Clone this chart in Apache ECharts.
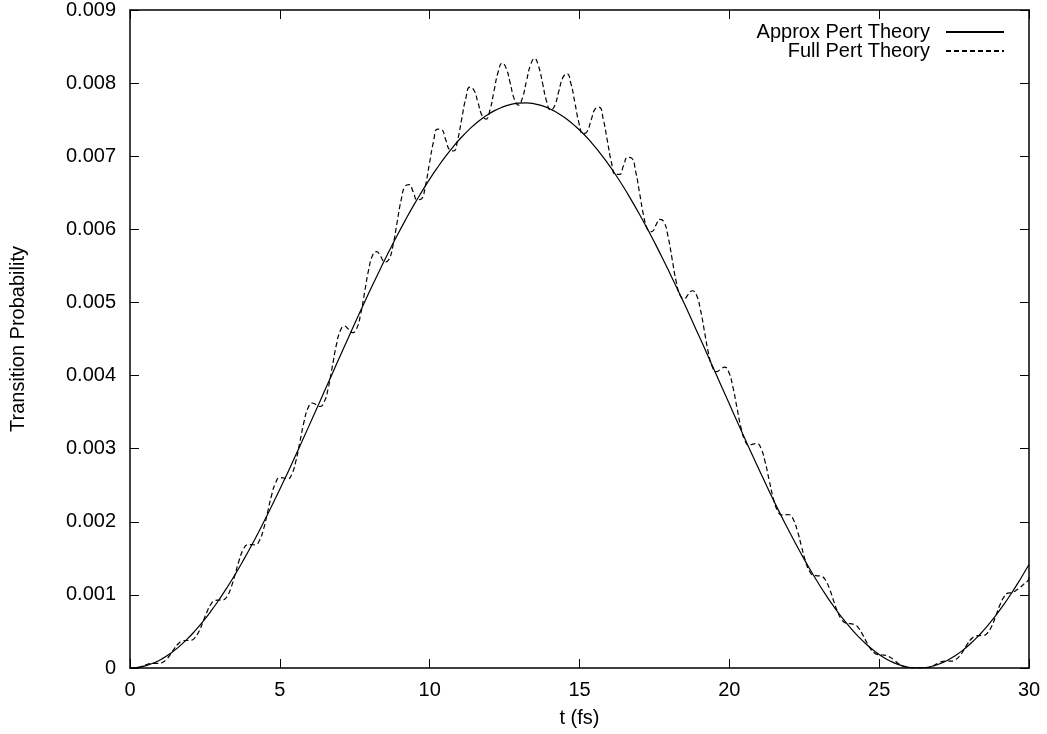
<!DOCTYPE html>
<html>
<head>
<meta charset="utf-8">
<script src="https://cdn.jsdelivr.net/npm/echarts@6/dist/echarts.min.js"></script>
<style>
html,body{margin:0;padding:0;background:#fff;}
#chart{width:1047px;height:734px;}
</style>
</head>
<body>
<div id="chart"></div>
<script>
// Approx Pert Theory: time samples (fs) and values
const timesApprox = [0,0.27,0.54,0.81,1.08,1.35,1.62,1.89,2.16,2.43,2.7,2.97,3.24,3.51,3.78,4.05,4.32,4.59,4.86,5.13,5.4,5.67,5.94,6.21,6.48,6.75,7.02,7.29,7.56,7.83,8.1,8.37,8.64,8.91,9.18,9.45,9.72,9.99,10.26,10.53,10.8,11.07,11.34,11.61,11.88,12.15,12.42,12.69,12.96,13.23,13.5,13.77,14.04,14.31,14.58,14.85,15.12,15.39,15.66,15.93,16.2,16.47,16.74,17.01,17.28,17.55,17.82,18.09,18.36,18.63,18.9,19.17,19.44,19.71,19.98,20.25,20.52,20.79,21.06,21.33,21.6,21.87,22.14,22.41,22.68,22.95,23.22,23.49,23.76,24.03,24.3,24.57,24.84,25.11,25.38,25.65,25.92,26.19,26.46,26.73,27,27.27,27.54,27.81,28.08,28.35,28.62,28.89,29.16,29.43,29.7,29.97,30];
const approxPert = [0,0.0081e-3,0.0322e-3,0.0721e-3,0.128e-3,0.1991e-3,0.2859e-3,0.3875e-3,0.5034e-3,0.6332e-3,0.7768e-3,0.9329e-3,1.101e-3,1.2811e-3,1.4722e-3,1.6729e-3,1.8818e-3,2.0998e-3,2.3256e-3,2.5575e-3,2.7939e-3,3.037e-3,3.281e-3,3.5283e-3,3.778e-3,4.0262e-3,4.2742e-3,4.5214e-3,4.7659e-3,5.0067e-3,5.2421e-3,5.4725e-3,5.6958e-3,5.9115e-3,6.1188e-3,6.3171e-3,6.5029e-3,6.68e-3,6.8448e-3,6.9984e-3,7.1373e-3,7.2626e-3,7.374e-3,7.4724e-3,7.5532e-3,7.6206e-3,7.6713e-3,7.7068e-3,7.7254e-3,7.73e-3,7.7161e-3,7.6883e-3,7.6421e-3,7.5823e-3,7.5059e-3,7.4148e-3,7.3107e-3,7.1909e-3,7.0573e-3,6.9089e-3,6.7505e-3,6.5783e-3,6.3928e-3,6.2002e-3,5.9956e-3,5.7838e-3,5.5626e-3,5.3355e-3,5.103e-3,4.8646e-3,4.6213e-3,4.376e-3,4.1272e-3,3.8781e-3,3.6303e-3,3.3815e-3,3.1356e-3,2.8924e-3,2.6526e-3,2.419e-3,2.1902e-3,1.9698e-3,1.7566e-3,1.5521e-3,1.3571e-3,1.1727e-3,0.9996e-3,0.8382e-3,0.6897e-3,0.5544e-3,0.4327e-3,0.3252e-3,0.2324e-3,0.155e-3,0.0929e-3,0.0464e-3,0.0159e-3,0.0013e-3,0.0028e-3,0.0204e-3,0.0542e-3,0.1035e-3,0.1687e-3,0.2488e-3,0.3445e-3,0.4546e-3,0.5791e-3,0.7172e-3,0.868e-3,1.0315e-3,1.2073e-3,1.3943e-3,1.414e-3];

// Full Pert Theory: time samples (fs) and values
const timesFull = [0,0.135,0.27,0.405,0.54,0.675,0.81,0.945,1.08,1.215,1.35,1.485,1.62,1.755,1.89,2.025,2.16,2.295,2.43,2.565,2.7,2.835,2.97,3.105,3.24,3.375,3.51,3.645,3.78,3.915,4.05,4.185,4.32,4.455,4.59,4.725,4.86,4.995,5.13,5.265,5.4,5.535,5.67,5.805,5.94,6.075,6.21,6.345,6.48,6.615,6.75,6.885,7.02,7.155,7.29,7.425,7.56,7.695,7.83,7.965,8.1,8.235,8.37,8.505,8.64,8.775,8.91,9.045,9.18,9.315,9.45,9.585,9.72,9.855,9.99,10.125,10.26,10.395,10.53,10.665,10.8,10.935,11.07,11.205,11.34,11.475,11.61,11.745,11.88,12.015,12.15,12.285,12.42,12.555,12.69,12.825,12.96,13.095,13.23,13.365,13.5,13.635,13.77,13.905,14.04,14.175,14.31,14.445,14.58,14.715,14.85,14.985,15.12,15.255,15.39,15.525,15.66,15.795,15.93,16.065,16.2,16.335,16.47,16.605,16.74,16.875,17.01,17.145,17.28,17.415,17.55,17.685,17.82,17.955,18.09,18.225,18.36,18.495,18.63,18.765,18.9,19.035,19.17,19.305,19.44,19.575,19.71,19.845,19.98,20.115,20.25,20.385,20.52,20.655,20.79,20.925,21.06,21.195,21.33,21.465,21.6,21.735,21.87,22.005,22.14,22.275,22.41,22.545,22.68,22.815,22.95,23.085,23.22,23.355,23.49,23.625,23.76,23.895,24.03,24.165,24.3,24.435,24.57,24.705,24.84,24.975,25.11,25.245,25.38,25.515,25.65,25.785,25.92,26.055,26.19,26.325,26.46,26.595,26.73,26.865,27,27.135,27.27,27.405,27.54,27.675,27.81,27.945,28.08,28.215,28.35,28.485,28.62,28.755,28.89,29.025,29.16,29.295,29.43,29.565,29.7,29.835,29.97,30];
const fullPert = [0,0,0.0045e-3,0.0239e-3,0.0463e-3,0.0607e-3,0.0633e-3,0.0629e-3,0.0763e-3,0.1178e-3,0.1876e-3,0.2687e-3,0.3356e-3,0.3701e-3,0.376e-3,0.3785e-3,0.4112e-3,0.4954e-3,0.6244e-3,0.7636e-3,0.8717e-3,0.9231e-3,0.9293e-3,0.9313e-3,0.9802e-3,1.103e-3,1.2853e-3,1.4773e-3,1.6209e-3,1.6845e-3,1.6873e-3,1.6846e-3,1.7442e-3,1.898e-3,2.1266e-3,2.3629e-3,2.5349e-3,2.6052e-3,2.5987e-3,2.5864e-3,2.6506e-3,2.8285e-3,3.0944e-3,3.3646e-3,3.5556e-3,3.6247e-3,3.6034e-3,3.5768e-3,3.6387e-3,3.8295e-3,4.1202e-3,4.4146e-3,4.616e-3,4.6765e-3,4.6353e-3,4.5864e-3,4.6386e-3,4.8348e-3,5.1409e-3,5.448e-3,5.6502e-3,5.6955e-3,5.6274e-3,5.5513e-3,5.5863e-3,5.778e-3,6.0869e-3,6.3947e-3,6.589e-3,6.6116e-3,6.5125e-3,6.4039e-3,6.4146e-3,6.5921e-3,6.8947e-3,7.193e-3,7.3698e-3,7.3646e-3,7.2313e-3,7.0885e-3,7.0713e-3,7.227e-3,7.5122e-3,7.7919e-3,7.9439e-3,7.9067e-3,7.7371e-3,7.5587e-3,7.5084e-3,7.6374e-3,7.8985e-3,8.1525e-3,8.2737e-3,8.2017e-3,7.9956e-3,7.7812e-3,7.6989e-3,7.7969e-3,8.0275e-3,8.2483e-3,8.3367e-3,8.2303e-3,7.992e-3,7.7446e-3,7.6297e-3,7.6941e-3,7.8895e-3,8.0752e-3,8.1292e-3,7.9907e-3,7.7229e-3,7.4498e-3,7.3071e-3,7.3386e-3,7.4973e-3,7.6468e-3,7.6677e-3,7.5014e-3,7.211e-3,6.9173e-3,6.7504e-3,6.7511e-3,6.8735e-3,6.9854e-3,6.9746e-3,6.7887e-3,6.486e-3,6.1796e-3,5.994e-3,5.969e-3,6.0579e-3,6.1374e-3,6.1016e-3,5.9023e-3,5.5959e-3,5.2893e-3,5.0958e-3,5.0503e-3,5.1094e-3,5.16e-3,5.1051e-3,4.9024e-3,4.6036e-3,4.306e-3,4.1119e-3,4.0527e-3,4.0872e-3,4.115e-3,4.049e-3,3.8516e-3,3.5711e-3,3.295e-3,3.1113e-3,3.0459e-3,3.0617e-3,3.0708e-3,2.9991e-3,2.8178e-3,2.5677e-3,2.3232e-3,2.1583e-3,2.0945e-3,2.0979e-3,2.0958e-3,2.0271e-3,1.8703e-3,1.66e-3,1.4578e-3,1.321e-3,1.2648e-3,1.261e-3,1.2527e-3,1.1935e-3,1.0694e-3,0.9079e-3,0.7564e-3,0.655e-3,0.6127e-3,0.6068e-3,0.597e-3,0.5528e-3,0.4674e-3,0.3619e-3,0.2671e-3,0.2064e-3,0.1823e-3,0.1779e-3,0.1701e-3,0.1447e-3,0.1027e-3,0.0575e-3,0.0237e-3,0.0075e-3,0.0038e-3,0.0029e-3,0,0,0.0005e-3,0.015e-3,0.0438e-3,0.073e-3,0.0903e-3,0.0936e-3,0.0937e-3,0.1103e-3,0.1582e-3,0.237e-3,0.3271e-3,0.4003e-3,0.4375e-3,0.4436e-3,0.4461e-3,0.4819e-3,0.5722e-3,0.7096e-3,0.8569e-3,0.9704e-3,1.024e-3,1.03e-3,1.06e-3,1.1e-3,1.15e-3,1.2e-3,1.24e-3];

const xTicks = [0,5,10,15,20,25,30];
const yTicks = ['0','0.001','0.002','0.003','0.004','0.005','0.006','0.007','0.008','0.009'];

const FONT = 'Liberation Sans, Arial, Helvetica, sans-serif';
const chart = echarts.init(document.getElementById('chart'), null, {renderer:'canvas'});

const pairs = (ts, arr) => ts.map((t, i) => [t, arr[i]]);

const axisLineStyle = {show:true, onZero:false, lineStyle:{color:'#000', width:1.5}};
const tickStyle = {show:true, inside:true, length:9, lineStyle:{color:'#000', width:1}};
const legendCommon = {right:42, padding:0, orient:'vertical', align:'right', itemWidth:58, itemHeight:14, itemGap:0,
  itemStyle:{opacity:0, color:'transparent', borderWidth:0},
  textStyle:{fontFamily:FONT, fontSize:20, color:'#000', padding:[0,11,0,0]}};

chart.setOption({
  animation:false,
  backgroundColor:'#fff',
  grid:{left:130, right:18, top:10, bottom:66, containLabel:false},
  legend:[
    Object.assign({data:['Approx Pert Theory'], top:22}, legendCommon),
    Object.assign({data:['Full Pert Theory'], top:41}, legendCommon)
  ],
  xAxis:[
    {type:'value', position:'bottom', min:0, max:30, interval:5,
     name:'t (fs)', nameLocation:'middle', nameGap:40,
     nameTextStyle:{fontFamily:FONT, fontSize:20, color:'#000'},
     axisLine:axisLineStyle, axisTick:tickStyle, splitLine:{show:false},
     axisLabel:{fontFamily:FONT, fontSize:20, color:'#000', margin:12,
       formatter:(v)=> xTicks.includes(v) ? String(v) : ''}},
    {type:'value', position:'top', min:0, max:30, interval:5,
     axisLine:axisLineStyle, axisTick:tickStyle, splitLine:{show:false},
     axisLabel:{show:false}}
  ],
  yAxis:[
    {type:'value', position:'left', min:0, max:0.009, interval:0.001,
     name:'Transition Probability', nameLocation:'middle', nameGap:102,
     nameTextStyle:{fontFamily:FONT, fontSize:20, color:'#000'},
     axisLine:axisLineStyle, axisTick:tickStyle, splitLine:{show:false},
     axisLabel:{fontFamily:FONT, fontSize:20, color:'#000', margin:14, padding:[5,0,0,0],
       formatter:(v)=> { const i = Math.round(v/0.001); return yTicks[i] !== undefined ? yTicks[i] : ''; }}},
    {type:'value', position:'right', min:0, max:0.009, interval:0.001,
     axisLine:axisLineStyle, axisTick:tickStyle, splitLine:{show:false},
     axisLabel:{show:false}}
  ],
  series:[
    {name:'Approx Pert Theory', type:'line', xAxisIndex:0, yAxisIndex:0,
     data:pairs(timesApprox, approxPert), smooth:0.5, symbol:'none', showSymbol:false,
     lineStyle:{color:'#000', width:1.2, type:'solid'}, itemStyle:{color:'#000'}},
    {name:'Full Pert Theory', type:'line', xAxisIndex:0, yAxisIndex:0,
     data:pairs(timesFull, fullPert), smooth:0.5, symbol:'none', showSymbol:false,
     lineStyle:{color:'#000', width:1.2, type:[5,3]}, itemStyle:{color:'#000'}}
  ]
});
</script>
</body>
</html>
